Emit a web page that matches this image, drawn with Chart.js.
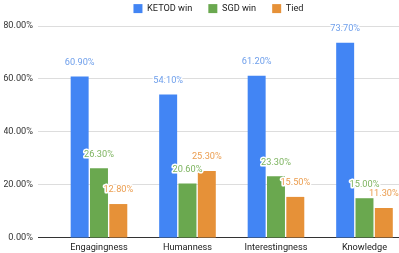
<!DOCTYPE html>
<html><head><meta charset="utf-8">
<script src="https://cdn.jsdelivr.net/npm/chart.js@4.4.0/dist/chart.umd.min.js"></script>
<style>html,body{margin:0;padding:0;background:#fff}#wrap{width:399px;height:253px}</style>
</head><body><div id="wrap"><canvas id="c" width="399" height="253"></canvas></div>
<script>
const categories = ["Engagingness", "Humanness", "Interestingness", "Knowledge"];
const ketodWin = [60.9, 54.1, 61.2, 73.7];
const sgdWin = [26.3, 20.6, 23.3, 15.0];
const tied = [12.8, 25.3, 15.5, 11.3];
const seriesNames = ["KETOD win", "SGD win", "Tied"];
const yTicks = [0, 20, 40, 60, 80];

const FONT = 'Roboto, "Liberation Sans", sans-serif';
const FS = 9.2;
const labelColors = ["#6d9eeb", "#7cb35e", "#eb9d4f"];
const toPts = arr => arr.map((v, i) => ({x: i, y: v}));

const labelPlugin = {
  id: 'valLabels',
  afterDatasetsDraw(chart) {
    const ctx = chart.ctx;
    ctx.save();
    ctx.font = FS + 'px ' + FONT;
    ctx.textAlign = 'center';
    ctx.textBaseline = 'middle';
    ctx.lineJoin = 'round';
    chart.data.datasets.forEach((ds, i) => {
      const meta = chart.getDatasetMeta(i);
      meta.data.forEach((el, j) => {
        const t = ds.data[j].y.toFixed(2) + '%';
        const y = el.y - 14;
        ctx.strokeStyle = '#fff';
        ctx.lineWidth = 3;
        ctx.strokeText(t, el.x, y);
        ctx.fillStyle = labelColors[i];
        ctx.fillText(t, el.x, y);
      });
    });
    ctx.restore();
  }
};

const legendFix = {
  id: 'legendFix',
  beforeInit(chart) {
    const lg = chart.legend;
    if (!lg) return;
    const orig = lg.fit;
    lg.fit = function () { orig.call(this); this.height = 38; };
  }
};

new Chart(document.getElementById('c'), {
  type: 'bar',
  data: {
    datasets: [
      {label: seriesNames[0], data: toPts(ketodWin), backgroundColor: '#4285f4'},
      {label: seriesNames[1], data: toPts(sgdWin), backgroundColor: '#6aa84f'},
      {label: seriesNames[2], data: toPts(tied), backgroundColor: '#e69138'}
    ]
  },
  options: {
    responsive: false,
    animation: false,
    devicePixelRatio: 1,
    layout: {padding: {left: 4, right: 0, top: -12, bottom: -4}},
    datasets: {bar: {barPercentage: 0.93, categoryPercentage: 0.655}},
    plugins: {
      legend: {
        position: 'top',
        fullSize: false,
        labels: {
          boxWidth: 9, boxHeight: 9, padding: 16,
          color: '#222',
          font: {family: FONT, size: FS}
        }
      },
      tooltip: {enabled: false}
    },
    scales: {
      x: {
        type: 'linear',
        min: -0.689, max: 3.39,
        offset: false,
        afterBuildTicks(axis) { axis.ticks = categories.map((c, i) => ({value: i})); },
        grid: {display: false, drawTicks: false},
        border: {color: '#333'},
        ticks: {
          color: '#222', padding: 4, maxRotation: 0, autoSkip: false,
          font: {family: FONT, size: FS},
          callback: v => categories[v]
        }
      },
      y: {
        min: 0, max: 80,
        afterBuildTicks(axis) { axis.ticks = yTicks.map(v => ({value: v})); },
        afterFit(axis) { axis.width = 34; },
        grid: {color: '#dddddd', drawTicks: false},
        border: {display: false},
        ticks: {
          color: '#333', padding: 5,
          font: {family: FONT, size: FS},
          callback: v => v.toFixed(2) + '%'
        }
      }
    }
  },
  plugins: [labelPlugin, legendFix]
});
</script></body></html>
